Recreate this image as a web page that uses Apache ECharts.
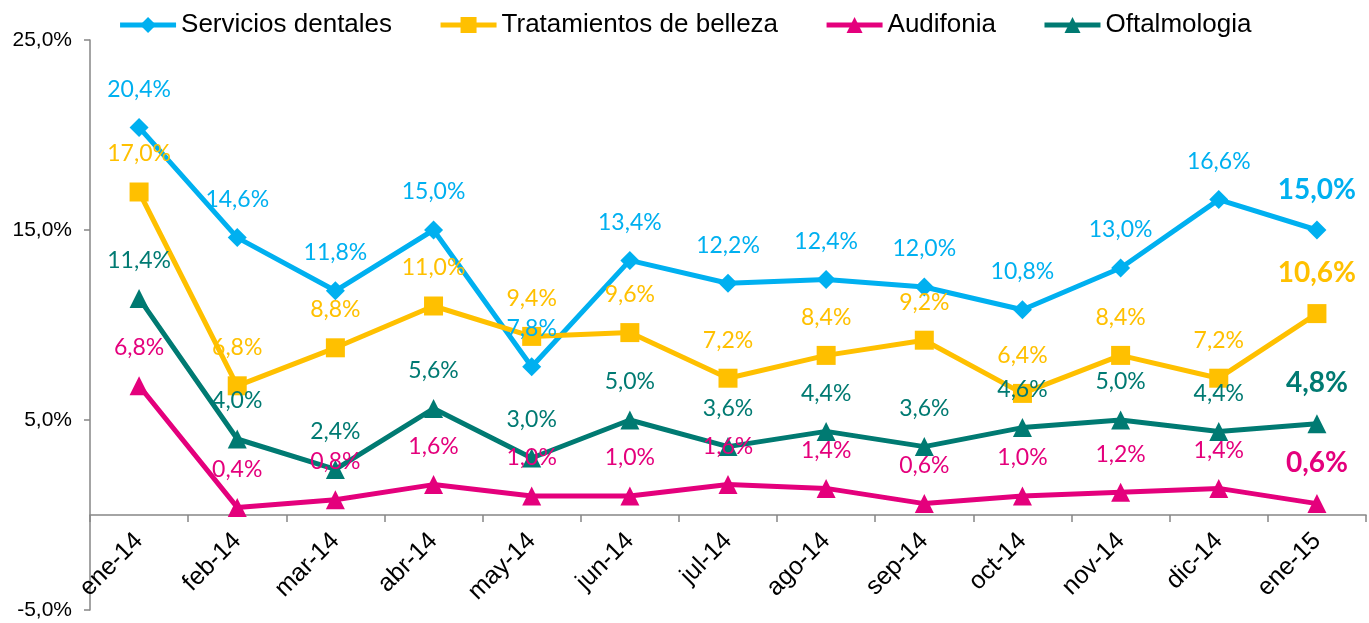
<!DOCTYPE html>
<html>
<head>
<meta charset="utf-8">
<script src="https://cdn.jsdelivr.net/npm/echarts@6/dist/echarts.min.js"></script>
<style>
  html, body { margin: 0; padding: 0; background: #fff; }
  #main { width: 1369px; height: 623px; }
</style>
</head>
<body>
<div id="main"></div>
<script>
// meses
var categories = ['ene-14', 'feb-14', 'mar-14', 'abr-14', 'may-14', 'jun-14', 'jul-14',
  'ago-14', 'sep-14', 'oct-14', 'nov-14', 'dic-14', 'ene-15'];

// % por servicio
var serviciosDentales = [20.4, 14.6, 11.8, 15.0, 7.8, 13.4, 12.2, 12.4, 12.0, 10.8, 13.0, 16.6, 15.0];
var tratamientosBelleza = [17.0, 6.8, 8.8, 11.0, 9.4, 9.6, 7.2, 8.4, 9.2, 6.4, 8.4, 7.2, 10.6];
var audifonia = [6.8, 0.4, 0.8, 1.6, 1.0, 1.0, 1.6, 1.4, 0.6, 1.0, 1.2, 1.4, 0.6];
var oftalmologia = [11.4, 4.0, 2.4, 5.6, 3.0, 5.0, 3.6, 4.4, 3.6, 4.6, 5.0, 4.4, 4.8];

// eje Y
var yMin = -5, yMax = 25, yStep = 10;

function pct(v) {
  return v.toFixed(1).replace('.', ',') + '%';
}

function makeSeries(name, data, color, symbol, size) {
  var last = data.length - 1;
  return {
    name: name,
    type: 'line',
    data: data.map(function (v, i) {
      if (i !== last) return v;
      // el último punto va resaltado
      return {
        value: v,
        label: { fontSize: 28, fontWeight: 'bold' }
      };
    }),
    symbol: symbol,
    symbolSize: size,
    showAllSymbol: true,
    itemStyle: { color: color },
    lineStyle: { color: color, width: 5 },
    label: {
      show: true,
      position: 'top',
      distance: 17,
      color: color,
      fontFamily: 'Lato',
      fontSize: 23,
      formatter: function (p) { return pct(p.value); }
    }
  };
}

var chart = echarts.init(document.getElementById('main'));

// el eje X cruza en 0: se sube desde el borde inferior del grid
var gridTop = 40, gridBottom = 13;
var plotH = 623 - gridTop - gridBottom;
var zeroOffset = -plotH * (0 - yMin) / (yMax - yMin);

var option = {
  animation: false,
  textStyle: { fontFamily: 'Liberation Sans' },
  legend: {
    top: 7,
    left: 'center',
    itemWidth: 56,
    itemHeight: 20,
    itemGap: 46,
    lineStyle: { width: 5 },
    textStyle: { fontSize: 26, color: '#000', fontFamily: 'Liberation Sans' },
    data: ['Servicios dentales', 'Tratamientos de belleza', 'Audifonia', 'Oftalmologia']
  },
  grid: {
    left: 90,
    right: 3,
    top: gridTop,
    bottom: gridBottom,
    outerBoundsMode: 'none'
  },
  xAxis: {
    type: 'category',
    data: categories,
    position: 'bottom',
    offset: zeroOffset,
    axisLine: { onZero: false, lineStyle: { color: '#868686', width: 1.5 } },
    axisTick: { show: true, length: 7, lineStyle: { color: '#868686', width: 1.5 } },
    axisLabel: {
      interval: 0,
      rotate: 45,
      margin: 22,
      fontSize: 25,
      color: '#000',
      fontFamily: 'Liberation Sans'
    }
  },
  yAxis: {
    type: 'value',
    min: yMin,
    max: yMax,
    interval: yStep,
    splitLine: { show: false },
    axisLine: { show: true, lineStyle: { color: '#868686', width: 1.5 } },
    axisTick: { show: true, length: 6, lineStyle: { color: '#868686', width: 1.5 } },
    axisLabel: {
      margin: 18,
      fontSize: 21,
      color: '#000',
      fontFamily: 'Liberation Sans',
      formatter: function (v) { return pct(v); }
    }
  },
  series: [
    makeSeries('Servicios dentales', serviciosDentales, '#00B0F0', 'diamond', 19),
    makeSeries('Tratamientos de belleza', tratamientosBelleza, '#FFC000', 'rect', 19),
    makeSeries('Audifonia', audifonia, '#E4007C', 'triangle', 19),
    makeSeries('Oftalmologia', oftalmologia, '#007A72', 'triangle', 19)
  ]
};

chart.setOption(option);
</script>
</body>
</html>
